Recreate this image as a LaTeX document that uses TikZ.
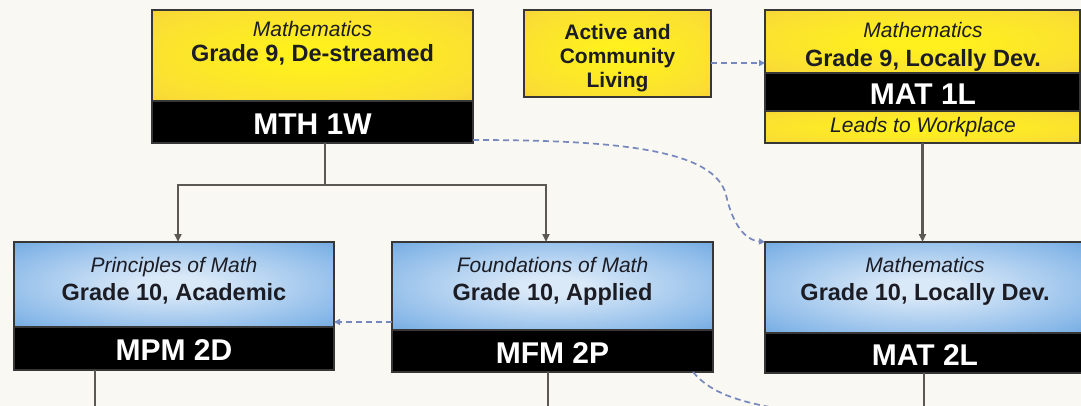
\documentclass[tikz,border=0pt]{standalone}
\usepackage{fontspec}
\setmainfont{Liberation Sans}
\usetikzlibrary{arrows.meta,calc}
\definecolor{bg}{RGB}{250,248,242}
\definecolor{ycen}{RGB}{255,240,30}
\definecolor{ymid}{RGB}{250,222,52}
\definecolor{yedg}{RGB}{236,188,56}
\definecolor{bcen}{RGB}{218,233,248}
\definecolor{bmid}{RGB}{136,184,232}
\definecolor{bedg}{RGB}{72,140,208}
\definecolor{bedgb}{RGB}{60,124,196}
\definecolor{frame}{RGB}{55,55,55}
\definecolor{lin}{RGB}{92,88,84}
\definecolor{dsh}{RGB}{118,136,190}
\definecolor{txt}{RGB}{28,28,36}
\pgfdeclareradialshading{yrad}{\pgfpoint{0bp}{0bp}}{color(0bp)=(ycen); color(6bp)=(ycen); color(30bp)=(ymid); color(48bp)=(yedg); color(75bp)=(yedg)}
\pgfdeclareradialshading{brad}{\pgfpoint{0bp}{0bp}}{color(0bp)=(bcen); color(5bp)=(bcen); color(30bp)=(bmid); color(48bp)=(bedg); color(75bp)=(bedgb)}
\begin{document}
\begin{tikzpicture}[x=1pt,y=-1pt,
  frm/.style={draw=frame,line width=1.3pt,inner sep=0pt,outer sep=0pt,anchor=north west},
  ypart/.style={frm,shade,shading=yrad},
  bpart/.style={frm,shade,shading=brad},
  band/.style={frm,fill=black},
  sub/.style={anchor=base,inner sep=0pt,text=txt,font=\fontsize{21}{25}\selectfont\itshape},
  ttl/.style={anchor=base,inner sep=0pt,text=txt,font=\fontsize{23.5}{28}\selectfont\bfseries},
  smallttl/.style={anchor=base,inner sep=0pt,text=txt,font=\fontsize{21}{25}\selectfont\bfseries},
  code/.style={anchor=base,inner sep=0pt,text=white,font=\fontsize{30}{34}\selectfont\bfseries},
  conn/.style={draw=lin,line width=2.3pt},
  arrtip/.style={-{Triangle[length=8pt,width=7pt]}},
  dline/.style={draw=dsh,line width=1.7pt,dash pattern=on 6pt off 4pt},
  darr/.style={dline,-{Triangle[length=6pt,width=6pt]}},
]
\fill[bg] (0,0) rectangle (1081,406);
\useasboundingbox (0,0) rectangle (1081,406);

% MTH 1W
\node[ypart,minimum width=321pt,minimum height=91pt] (mthtop) at (152,10) {};
\node[band,minimum width=321pt,minimum height=42pt] (mthband) at (mthtop.south west) {};
\node[sub] (mthsub) at (312.5,37) {Mathematics};
\node[ttl] (mthttl) at (312.5,62) {Grade 9, De-streamed};
\node[code] (mthcode) at (312.5,135) {MTH 1W};

% Active and Community Living
\node[ypart,minimum width=187pt,minimum height=87pt] (act) at (524,10) {};
\node[smallttl] (act1) at (617.5,40) {Active and};
\node[smallttl] (act2) at (617.5,64) {Community};
\node[smallttl] (act3) at (617.5,88) {Living};

% MAT 1L
\node[ypart,minimum width=315pt,minimum height=63pt] (m1top) at (765,10) {};
\node[band,minimum width=315pt,minimum height=38pt] (m1band) at (m1top.south west) {};
\node[ypart,minimum width=315pt,minimum height=32pt] (m1bot) at (m1band.south west) {};
\node[sub] (m1sub) at (923,38) {Mathematics};
\node[ttl] (m1ttl) at (923,67) {Grade 9, Locally Dev.};
\node[code] (m1code) at (923,105) {MAT 1L};
\node[sub] (m1lead) at (923,133) {Leads to Workplace};

% MPM 2D
\node[bpart,minimum width=320pt,minimum height=85pt] (mpmtop) at (14,242) {};
\node[band,minimum width=320pt,minimum height=43pt] (mpmband) at (mpmtop.south west) {};
\node[sub] (mpmsub) at (174,272) {Principles of Math};
\node[ttl] (mpmttl) at (174,300) {Grade 10, Academic};
\node[code] (mpmcode) at (174,360) {MPM 2D};

% MFM 2P
\node[bpart,minimum width=321pt,minimum height=88pt] (mfmtop) at (392,242) {};
\node[band,minimum width=321pt,minimum height=42pt] (mfmband) at (mfmtop.south west) {};
\node[sub] (mfmsub) at (552.5,272) {Foundations of Math};
\node[ttl] (mfmttl) at (552.5,300) {Grade 10, Applied};
\node[code] (mfmcode) at (552.5,363) {MFM 2P};

% MAT 2L
\node[bpart,minimum width=320pt,minimum height=91pt] (m2top) at (765,242) {};
\node[band,minimum width=320pt,minimum height=40pt] (m2band) at (m2top.south west) {};
\node[sub] (m2sub) at (925,272) {Mathematics};
\node[ttl] (m2ttl) at (925,300) {Grade 10, Locally Dev.};
\node[code] (m2code) at (925,365) {MAT 2L};

% solid connectors
\coordinate (j) at (325,185);
\coordinate (jl) at (178,185);
\coordinate (jr) at (546,185);
\draw[conn] (mthband.south -| j) -- (j);
\draw[conn,{Triangle[length=8pt,width=7pt]}-{Triangle[length=8pt,width=7pt]}] (jl |- mpmtop.north) -- (jl) -- (jr) -- (jr |- mfmtop.north);
\draw[conn,arrtip] (m1bot.south) -- (m1bot.south |- m2top.north);
\coordinate (d1) at (95,410);
\coordinate (d2) at (548,410);
\coordinate (d3) at (924,410);
\draw[conn] (mpmband.south -| d1) -- (d1);
\draw[conn] (mfmband.south -| d2) -- (d2);
\draw[conn] (m2band.south -| d3) -- (d3);

% dashed connectors
\draw[darr] (act.east |- 0,63) -- (m1top.west |- 0,63);
\draw[darr] (mfmtop.west |- 0,322) -- (mpmtop.east |- 0,322);
\draw[darr] (mthband.east |- 0,140) .. controls (620,140) and (715,150) .. (726,195) .. controls (733,225) and (745,240) .. (m2top.north west);
\coordinate (offb) at (800,412);
\draw[dline] ([xshift=-20pt]mfmband.south east) .. controls (712,395) and (745,404) .. (offb);
\end{tikzpicture}
\end{document}
